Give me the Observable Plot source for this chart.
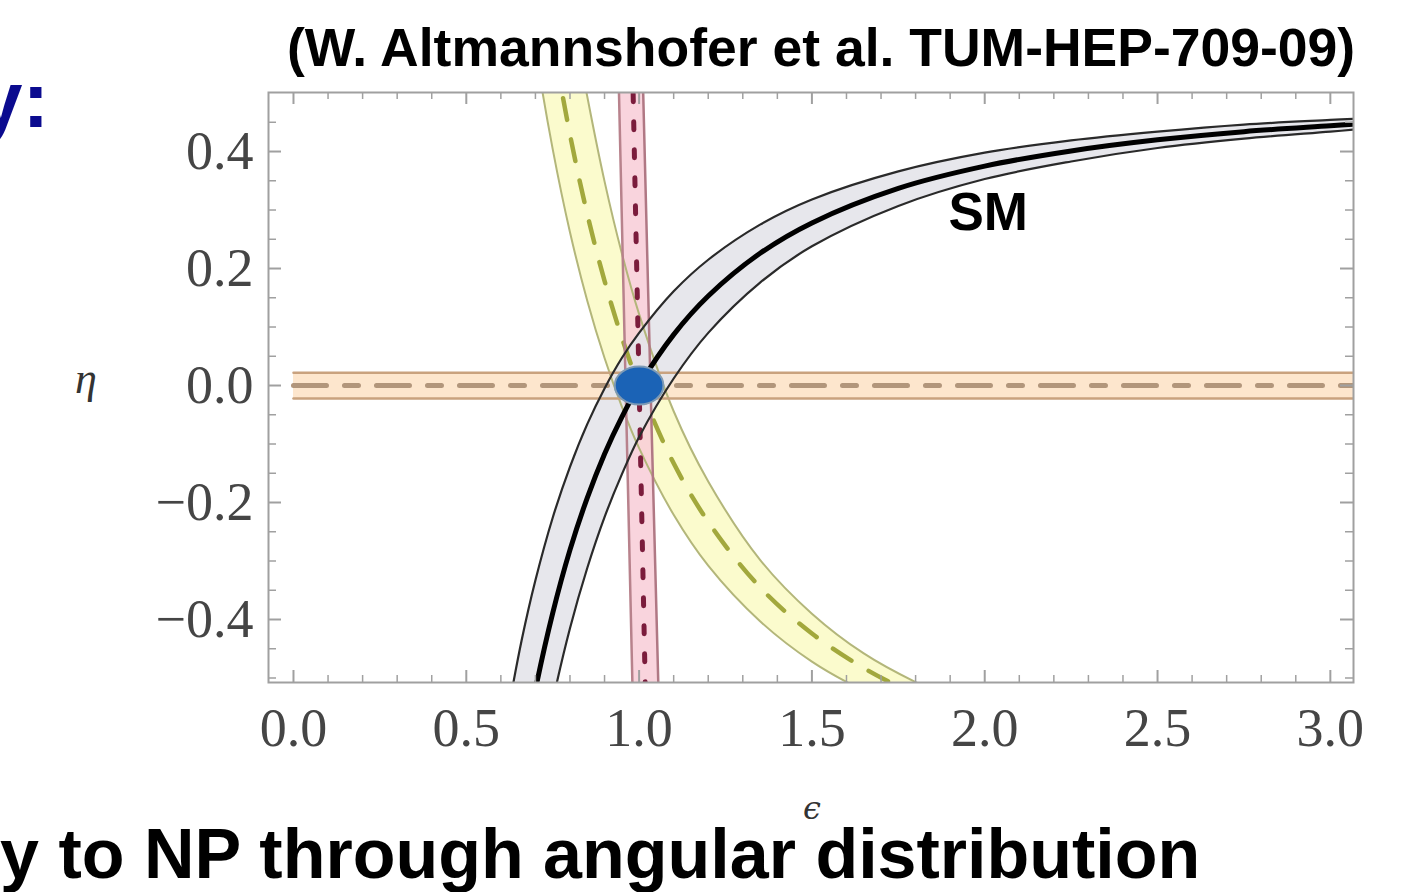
<!DOCTYPE html>
<html>
<head>
<meta charset="utf-8">
<script src="https://cdn.jsdelivr.net/npm/d3@7"></script>
<script src="https://cdn.jsdelivr.net/npm/@observablehq/plot@0.6"></script>
<style>
  html, body { margin: 0; padding: 0; background: #fff; }
  #chart { width: 1425px; height: 892px; overflow: hidden; }
</style>
</head>
<body>
<div id="chart"></div>
<script>
// ---- SM band (B -> K nu nu constraint), eta vs epsilon ----
const epsSM   = [0.62, 0.66, 0.70, 0.75, 0.80, 0.85, 0.90, 0.95, 1.00, 1.10, 1.20, 1.35, 1.50, 1.75, 2.00, 2.25, 2.50, 2.75, 3.00, 3.10];
const etaSM   = [-0.801, -0.648, -0.520, -0.389, -0.281, -0.192, -0.117, -0.054, 0.000, 0.087, 0.153, 0.226, 0.278, 0.337, 0.375, 0.401, 0.420, 0.434, 0.444, 0.448];
const etaSMHi = [-0.560, -0.436, -0.333, -0.226, -0.139, -0.066, -0.005, 0.047, 0.090, 0.161, 0.215, 0.275, 0.318, 0.366, 0.398, 0.419, 0.434, 0.446, 0.454, 0.457];
const etaSMLo = [-1.010, -0.835, -0.690, -0.540, -0.415, -0.312, -0.225, -0.152, -0.088, 0.012, 0.090, 0.176, 0.238, 0.307, 0.353, 0.383, 0.406, 0.422, 0.434, 0.439];

// ---- yellow band (B -> K* nu nu constraint) ----
const epsKs   = [0.66, 0.70, 0.75, 0.80, 0.85, 0.90, 0.95, 1.00, 1.10, 1.20, 1.35, 1.50, 1.65, 1.80, 1.95];
const etaKs   = [0.989, 0.795, 0.594, 0.429, 0.293, 0.179, 0.082, 0.000, -0.133, -0.233, -0.345, -0.424, -0.483, -0.528, -0.563];
const etaKsLo = [0.744, 0.576, 0.404, 0.262, 0.145, 0.047, -0.036, -0.107, -0.221, -0.308, -0.403, -0.472, -0.522, -0.561, -0.591];
const etaKsHi = [1.322, 1.091, 0.852, 0.656, 0.494, 0.349, 0.226, 0.122, -0.044, -0.164, -0.298, -0.390, -0.458, -0.507, -0.545];

// ---- red vertical band (B -> Xs nu nu) ----
const etaXs   = [-0.52, 0.00, 0.52];
const epsXs   = [1.018, 1.000, 0.982];
const epsXsLo = [0.981, 0.961, 0.941];
const epsXsHi = [1.056, 1.033, 1.011];

// ---- orange horizontal band (F_L) ----
const epsFL   = [0.0, 3.1];
const etaFL   = [0.0, 0.0];
const etaFLLo = [-0.022, -0.022];
const etaFLHi = [0.022, 0.022];

// ---- blue SM point ----
const smPointEps = [1.0];
const smPointEta = [0.0];

// ---- label ----
const smLabel = {eps: 2.01, eta: 0.294, text: "SM"};

// ---- ticks ----
const xMajor = [0.0, 0.5, 1.0, 1.5, 2.0, 2.5, 3.0];
const xMinor = [0.1, 0.2, 0.3, 0.4, 0.6, 0.7, 0.8, 0.9, 1.1, 1.2, 1.3, 1.4, 1.6, 1.7, 1.8, 1.9, 2.1, 2.2, 2.3, 2.4, 2.6, 2.7, 2.8, 2.9];
const yMajor = [-0.4, -0.2, 0.0, 0.2, 0.4];
const yMinor = [-0.5, -0.45, -0.35, -0.3, -0.25, -0.15, -0.1, -0.05, 0.05, 0.1, 0.15, 0.25, 0.3, 0.35, 0.45];

// texts
const titleText  = "(W. Altmannshofer et al. TUM-HEP-709-09)";
const leftText   = "y:";
const bottomText = "y to NP through angular distribution";
const xLabel = "\u03F5";
const yLabel = "\u03B7";

// ---- tables ----
const sm = epsSM.map((e, i) => ({eps: e, eta: etaSM[i], lo: etaSMLo[i], hi: etaSMHi[i]}));
const ks = epsKs.map((e, i) => ({eps: e, eta: etaKs[i], lo: etaKsLo[i], hi: etaKsHi[i]}));
const xs = etaXs.map((h, i) => ({eta: h, eps: epsXs[i], lo: epsXsLo[i], hi: epsXsHi[i]}));
const fl = epsFL.map((e, i) => ({eps: e, eta: etaFL[i], lo: etaFLLo[i], hi: etaFLHi[i]}));
const pt = smPointEps.map((e, i) => ({eps: e, eta: smPointEta[i]}));

const W = 1425, H = 892;
const mL = 268, mR = 72, mT = 92, mB = 210;
const fw = W - mL - mR, fh = H - mT - mB;

const ellipseSymbol = {
  draw(ctx, size) {
    const r = Math.sqrt(size / Math.PI);
    const rx = r * 1.28, ry = r, k = 0.5523;
    ctx.moveTo(rx, 0);
    ctx.bezierCurveTo(rx, ry * k, rx * k, ry, 0, ry);
    ctx.bezierCurveTo(-rx * k, ry, -rx, ry * k, -rx, 0);
    ctx.bezierCurveTo(-rx, -ry * k, -rx * k, -ry, 0, -ry);
    ctx.bezierCurveTo(rx * k, -ry, rx, -ry * k, rx, 0);
    ctx.closePath();
  }
};

const tickCol = "#a0a0a0";
const curve = "catmull-rom";

const svg = Plot.plot({
  width: W, height: H,
  marginLeft: mL, marginRight: mR, marginTop: mT, marginBottom: mB,
  style: {background: "#fff", fontFamily: "Liberation Serif", overflow: "hidden"},
  x: {domain: [-0.0723, 3.067]},
  y: {domain: [-0.5077, 0.5009]},
  marks: [
    // fills
    Plot.areaY(ks, {x: "eps", y1: "lo", y2: "hi", curve, fill: "#fbfbc8", fillOpacity: 0.9, clip: true}),
    Plot.areaX(xs, {y: "eta", x1: "lo", x2: "hi", fill: "#f8cdd7", fillOpacity: 0.85, clip: true}),
    Plot.areaY(fl, {x: "eps", y1: "lo", y2: "hi", fill: "#fde3c8", fillOpacity: 0.9, clip: true}),
    Plot.areaY(sm, {x: "eps", y1: "lo", y2: "hi", curve, fill: "#e4e4ea", fillOpacity: 0.9, clip: true}),
    // yellow lines
    Plot.line(ks, {x: "eps", y: "lo", curve, stroke: "#b3b67a", strokeWidth: 2, clip: true}),
    Plot.line(ks, {x: "eps", y: "hi", curve, stroke: "#b3b67a", strokeWidth: 2, clip: true}),
    Plot.line(ks, {x: "eps", y: "eta", curve, stroke: "#a2a83c", strokeWidth: 4.5, strokeDasharray: "22,20", clip: true}),
    // orange lines
    Plot.line(fl, {x: "eps", y: "lo", stroke: "#c9a27e", strokeWidth: 2.5, clip: true}),
    Plot.line(fl, {x: "eps", y: "hi", stroke: "#c9a27e", strokeWidth: 2.5, clip: true}),
    Plot.line(fl, {x: "eps", y: "eta", stroke: "#b2967b", strokeWidth: 5, strokeDasharray: "33,18,14,18", clip: true}),
    // red lines
    Plot.line(xs, {x: "lo", y: "eta", stroke: "#b8828c", strokeWidth: 2.5, clip: true}),
    Plot.line(xs, {x: "hi", y: "eta", stroke: "#b07884", strokeWidth: 2.5, clip: true}),
    Plot.line(xs, {x: "eps", y: "eta", stroke: "#7b1c3c", strokeWidth: 5, strokeDasharray: "8,20", clip: true}),
    // SM lines
    Plot.line(sm, {x: "eps", y: "lo", curve, stroke: "#2a2a2a", strokeWidth: 2.2, clip: true}),
    Plot.line(sm, {x: "eps", y: "hi", curve, stroke: "#2a2a2a", strokeWidth: 2.2, clip: true}),
    Plot.line(sm, {x: "eps", y: "eta", curve, stroke: "#000", strokeWidth: 5, clip: true}),
    // SM point
    Plot.dot(pt, {x: "eps", y: "eta", r: 19, symbol: ellipseSymbol, fill: "#1b63b6", stroke: "#7d9ab5", strokeWidth: 2}),
    // SM label
    Plot.text([smLabel], {x: "eps", y: "eta", text: "text", fontSize: 53, fontWeight: "bold", fontFamily: "Liberation Sans", fill: "#000"}),
    // frame
    Plot.frame({stroke: tickCol, strokeWidth: 2}),
    // ticks (inward), bottom / top
    Plot.tickX(xMajor, {x: d => d, insetTop: fh - 12, stroke: tickCol, strokeWidth: 2}),
    Plot.tickX(xMinor, {x: d => d, insetTop: fh - 7, stroke: tickCol, strokeWidth: 1.5}),
    Plot.tickX(xMajor, {x: d => d, insetBottom: fh - 12, stroke: tickCol, strokeWidth: 2}),
    Plot.tickX(xMinor, {x: d => d, insetBottom: fh - 7, stroke: tickCol, strokeWidth: 1.5}),
    // left / right
    Plot.tickY(yMajor, {y: d => d, insetRight: fw - 13, stroke: tickCol, strokeWidth: 2}),
    Plot.tickY(yMinor, {y: d => d, insetRight: fw - 8, stroke: tickCol, strokeWidth: 1.5}),
    Plot.tickY(yMajor, {y: d => d, insetLeft: fw - 13, stroke: tickCol, strokeWidth: 2}),
    Plot.tickY(yMinor, {y: d => d, insetLeft: fw - 8, stroke: tickCol, strokeWidth: 1.5}),
    // tick labels
    Plot.axisX({ticks: xMajor, tickSize: 0, tickPadding: 25, tickFormat: d3.format(".1f"), fontSize: 54, fontFamily: "Liberation Serif", color: "#454545", label: null}),
    Plot.axisY({ticks: yMajor, tickSize: 0, tickPadding: 15, tickFormat: d3.format(".1f"), fontSize: 54, fontFamily: "Liberation Serif", color: "#454545", label: null})
  ]
});

document.getElementById("chart").appendChild(svg);

const s = d3.select(svg);
s.append("text").attr("x", 287).attr("y", 66).attr("text-anchor", "start")
  .attr("font-family", "Liberation Sans").attr("font-weight", "bold").attr("font-size", 53.5)
  .attr("fill", "#000").text(titleText);
s.append("text").attr("x", -22).attr("y", 127).attr("text-anchor", "start")
  .attr("font-family", "Liberation Sans").attr("font-weight", "bold").attr("font-size", 80)
  .attr("fill", "#0b0b8f").text(leftText);
s.append("text").attr("x", 0).attr("y", 878).attr("text-anchor", "start")
  .attr("font-family", "Liberation Sans").attr("font-weight", "bold").attr("font-size", 70)
  .attr("fill", "#000").text(bottomText);
s.append("text").attr("x", 86).attr("y", 393).attr("text-anchor", "middle")
  .attr("font-family", "Liberation Serif, DejaVu Serif").attr("font-style", "italic").attr("font-size", 44)
  .attr("fill", "#333").text(yLabel);
s.append("text").attr("x", 812).attr("y", 819).attr("text-anchor", "middle")
  .attr("font-family", "DejaVu Serif").attr("font-style", "italic").attr("font-size", 32)
  .attr("fill", "#333").text(xLabel);
</script>
</body>
</html>
